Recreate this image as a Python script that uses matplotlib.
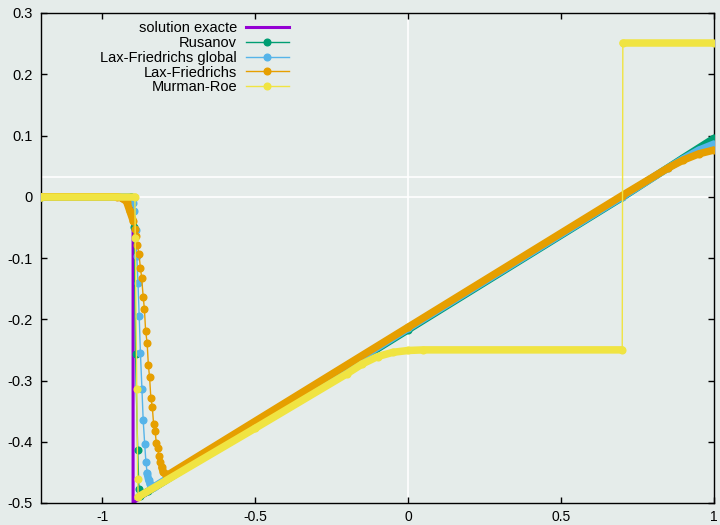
import numpy as np
import matplotlib
matplotlib.use("Agg")
import matplotlib.pyplot as plt

plt.rcParams['font.family'] = ['Liberation Sans', 'DejaVu Sans']

# solution exacte
x_exact = [-1.2, -0.899, -0.899, 0.7, 1.0]
y_exact = [0.0, 0.0, -0.5, -0.002, 0.093]

# Rusanov
x_rus = [-1.2, -0.905, -0.899, -0.895, -0.891, -0.884, -0.880, -0.876,
         -0.85, 0.0, 0.7, 0.9, 1.0]
y_rus = [0.0, 0.0, -0.004, -0.05, -0.256, -0.4135, -0.477, -0.488,
         -0.481, -0.217, -0.001, 0.0636, 0.0954]

# Lax-Friedrichs global
x_lfg = [-1.2, -0.915, -0.905, -0.899, -0.895, -0.891, -0.887, -0.883, -0.879,
         -0.875, -0.870, -0.866, -0.861, -0.857, -0.853, -0.848, -0.843, -0.838,
         -0.832, 0.0, 0.7, 0.85, 0.9, 0.95, 1.0]
y_lfg = [0.0, 0.0, -0.004, -0.01, -0.024, -0.055, -0.097, -0.14, -0.195,
         -0.255, -0.314, -0.3645, -0.404, -0.433, -0.4515, -0.4625, -0.469, -0.472,
         -0.474, -0.215, 0.0, 0.047, 0.062, 0.076, 0.086]

# Lax-Friedrichs
x_lf = [-1.2, -0.95, -0.935, -0.92, -0.909, -0.898, -0.894, -0.889, -0.885, -0.880,
        -0.875, -0.871, -0.866, -0.862, -0.858, -0.853, -0.849, -0.845, -0.841,
        -0.836, -0.832, -0.827, -0.823, -0.819, -0.814, -0.810, -0.805, -0.800,
        -0.79, -0.778, 0.0, 0.7, 0.85, 0.9, 0.95, 1.0]
y_lf = [0.0, 0.0, -0.002, -0.008, -0.024, -0.040, -0.052, -0.064, -0.079, -0.093,
        -0.116, -0.132, -0.163, -0.183, -0.219, -0.239, -0.275, -0.295, -0.328,
        -0.344, -0.371, -0.382, -0.4025, -0.4107, -0.424, -0.4325, -0.442, -0.4495,
        -0.454, -0.452, -0.213, 0.002, 0.047, 0.060, 0.070, 0.0763]

# Murman-Roe
x_mr = [-1.2, -0.893, -0.892, -0.887, -0.884, -0.882, -0.5, -0.2, -0.15, -0.1,
        -0.05, 0.0, 0.05, 0.700, 0.702, 1.0]
y_mr = [0.0, 0.0, -0.068, -0.314, -0.46, -0.49, -0.378, -0.289, -0.273, -0.261,
        -0.254, -0.251, -0.250, -0.250, 0.2505, 0.2505]

bg = '#e5ecea'
fig = plt.figure(figsize=(7.2, 5.25), dpi=100, facecolor=bg)
ax = fig.add_axes([41 / 720, 22 / 525, 673 / 720, 490 / 525], facecolor=bg)

ax.axhline(0, color='white', lw=1.2, zorder=0)
ax.axhline(0.033, color='white', lw=1.2, zorder=0)
ax.axvline(0, color='white', lw=1.2, zorder=0)

ax.plot(x_exact, y_exact, color='#9400d3', lw=2.2, zorder=2, label='solution exacte')

series = [
    (x_rus, y_rus, '#009e73', 'Rusanov', [(0, 3), (7, 13)]),
    (x_lfg, y_lfg, '#56b4e9', 'Lax-Friedrichs global', [(0, 4), (14, 25)]),
    (x_lf, y_lf, '#e69f00', 'Lax-Friedrichs', [(0, 6), (26, 36)]),
    (x_mr, y_mr, '#f0e442', 'Murman-Roe', [(0, 2), (5, 14), (14, 16)]),
]
z = 3
for xs, ys, c, lab, bands in series:
    xs = np.array(xs)
    ys = np.array(ys)
    ax.plot(xs, ys, color=c, lw=1, marker='o', ms=4.8, mec=c, zorder=z, label=lab)
    for a, b in bands:
        ax.plot(xs[a:b], ys[a:b], color=c, lw=5.4, solid_capstyle='round',
                solid_joinstyle='round', zorder=z)
    z += 1

ax.set_xlim(-1.2, 1)
ax.set_ylim(-0.5, 0.3)
ax.set_xticks([-1, -0.5, 0, 0.5, 1])
ax.set_xticklabels(['-1', '-0.5', '0', '0.5', '1'])
yt = [-0.5, -0.4, -0.3, -0.2, -0.1, 0, 0.1, 0.2, 0.3]
ax.set_yticks(yt)
ax.set_yticklabels(['-0.5', '-0.4', '-0.3', '-0.2', '-0.1', '0', '0.1', '0.2', '0.3'])
ax.tick_params(direction='in', length=4.5, width=1, top=True, right=True,
               labelsize=10.5, colors='black')
ax.tick_params(axis='x', pad=5, labelsize=10)
ax.tick_params(axis='y', pad=6)
for s in ax.spines.values():
    s.set_linewidth(1)
    s.set_color('black')

# markerfirst=False puts the sample after the text, texts are right-aligned
ax.legend(loc='upper left', bbox_to_anchor=(0.088, 0.983), frameon=False,
          markerfirst=False, handlelength=2.95, handletextpad=0.6,
          labelspacing=0.05, borderpad=0, borderaxespad=0, fontsize=10.5)

fig.savefig('out.png', dpi=100, facecolor=bg)
